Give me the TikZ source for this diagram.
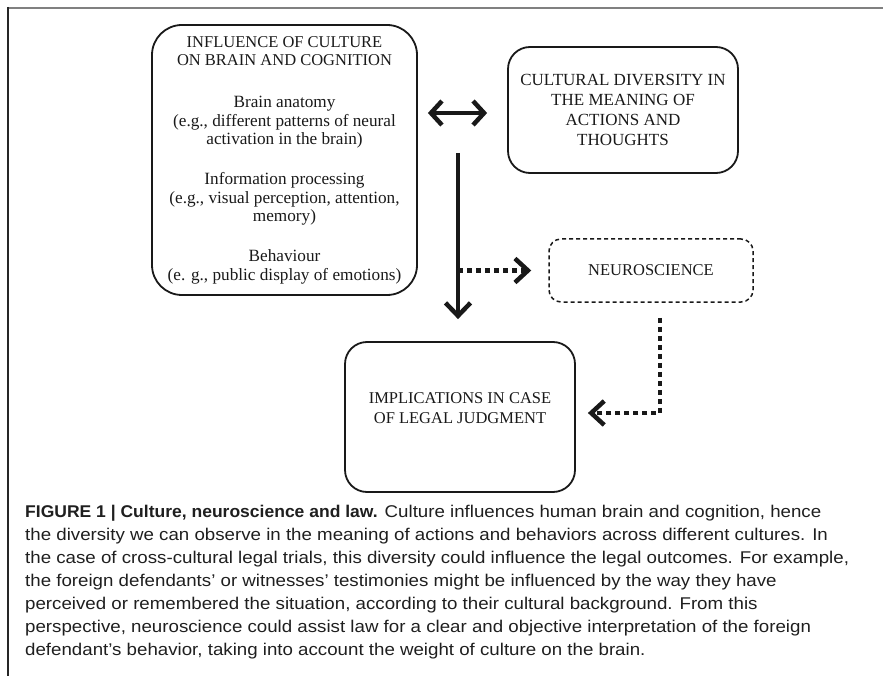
\documentclass[tikz,border=0pt]{standalone}
\usepackage{fontspec}
\setmainfont{Liberation Serif}
\newfontfamily\capfont{Liberation Sans}[FakeStretch=1.1]
\newfontfamily\capboldfont{Liberation Sans}[FakeStretch=1.03]
\usetikzlibrary{arrows.meta,calc}
\tikzset{
  box/.style={draw=black!90, line width=1.8pt, rounded corners=#1, align=center, inner sep=0pt, text=black!90},
  dashbox/.style={draw=black!90, line width=1.5pt, dash pattern=on 4pt off 3pt, rounded corners=12pt, align=center, inner sep=0pt, text=black!90},
  thickline/.style={line width=4pt, black!90},
  dotline/.style={line width=4.2pt, black!90, dash pattern=on 5pt off 4pt},
}
\begin{document}
\begin{tikzpicture}[x=1pt,y=-1pt]
\useasboundingbox (0,0) rectangle (883,676);
% frame
\draw[line width=2pt, black!50] (7,8) -- (883,8);
\draw[line width=1.5pt, black!85] (8,7) -- (8,676);

% boxes
\node[box=30pt, font=\fontsize{17.2}{18.5}\selectfont, minimum width=265pt, minimum height=270pt] (b1) at (284.5,160)
 {{\fontsize{16.5}{18}\selectfont INFLUENCE OF CULTURE}\\{\fontsize{16.5}{18}\selectfont ON BRAIN AND COGNITION}\\[23.5pt]Brain anatomy\\(e.g., different patterns of neural\\activation in the brain)\\[21.5pt]Information processing\\(e.g., visual perception, attention,\\memory)\\[21.5pt]Behaviour\\(e. g., public display of emotions)};
\node[box=22pt, font=\fontsize{17}{19.7}\selectfont, minimum width=230pt, minimum height=126pt] (b2) at (623,110)
 {CULTURAL DIVERSITY IN\\THE MEANING OF\\ACTIONS AND\\THOUGHTS};
\node[dashbox, font=\fontsize{16.5}{19}\selectfont, minimum width=204pt, minimum height=63pt] (ns) at (651,270.5) {NEUROSCIENCE};
\node[box=22pt, minimum width=230pt, minimum height=150pt] (b3) at (460,417) {};
\node[align=center, inner sep=0pt, text=black!90, font=\fontsize{16.5}{19.5}\selectfont] (b3t) at (460,408) {IMPLICATIONS IN CASE\\OF LEGAL JUDGMENT};

% connectors
\coordinate (da1) at ($(b1.east |- b2.center)+(10,3)$);
\coordinate (da2) at ($(b2.west)+(-20,3)$);
\draw[thickline, line width=4.5pt, {Straight Barb[length=11pt,width=24pt,line width=4.5pt]}-{Straight Barb[length=11pt,width=24pt,line width=4.5pt]}] (da1) -- (da2);

\coordinate (vs) at (458,153);
\coordinate (ve) at ($(b3.north -| vs)+(0,-22)$);
\draw[thickline, -{Straight Barb[length=13pt,width=25pt,line width=4.5pt]}] (vs) -- (ve);

\coordinate (hs) at (vs |- ns.west);
\coordinate (he) at ($(ns.west)+(-17,0)$);
\draw[dotline, -{Straight Barb[length=13pt,width=24pt,line width=4.5pt]}] (hs) -- (he);

\coordinate (ns1) at ($(ns.south)+(9,15)$);
\coordinate (b3e) at ($(b3.east)+(12,-4)$);
\draw[dotline, -{Straight Barb[length=13pt,width=24pt,line width=4.5pt]}] (ns1) |- (b3e);

% caption
\node[anchor=north west, align=left, inner sep=0pt, text=black!88, font=\capfont\fontsize{17}{23}\selectfont] (cap) at (25,505)
{{\capboldfont\bfseries FIGURE 1 | Culture, neuroscience and law.} Culture influences human brain and cognition, hence\\
the diversity we can observe in the meaning of actions and behaviors across different cultures. In\\
the case of cross-cultural legal trials, this diversity could influence the legal outcomes. For example,\\
the foreign defendants’ or witnesses’ testimonies might be influenced by the way they have\\
perceived or remembered the situation, according to their cultural background. From this\\
perspective, neuroscience could assist law for a clear and objective interpretation of the foreign\\
defendant’s behavior, taking into account the weight of culture on the brain.};
\end{tikzpicture}
\end{document}
